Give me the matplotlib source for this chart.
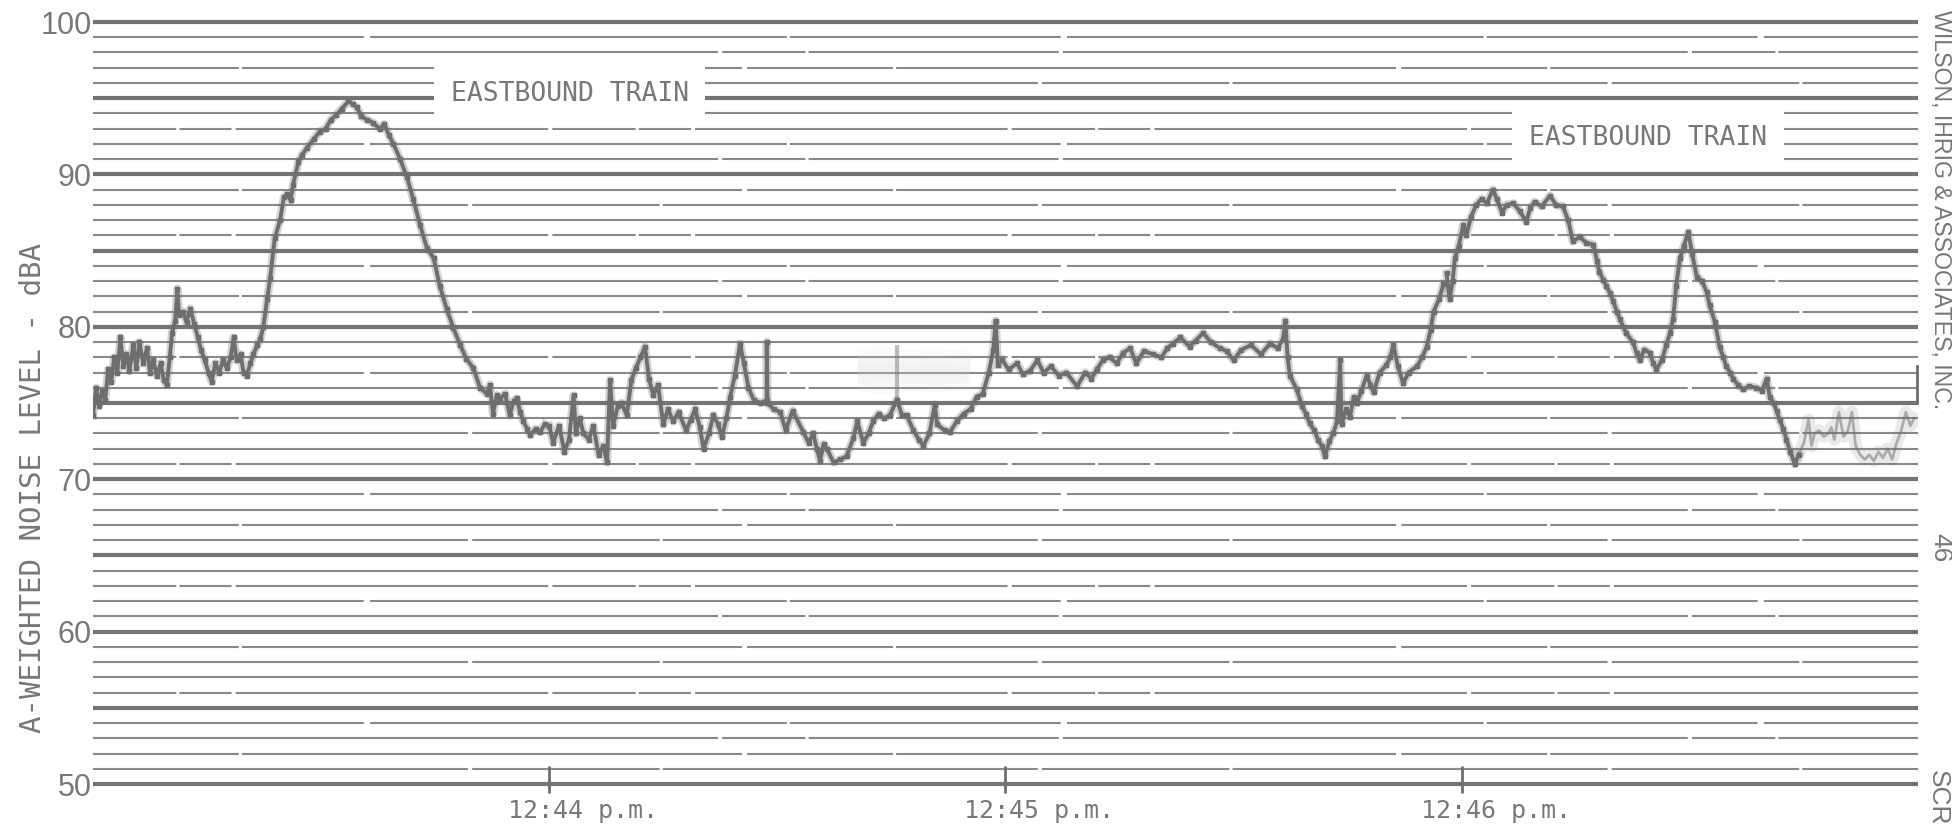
import matplotlib.pyplot as plt
from matplotlib import font_manager
from matplotlib.transforms import ScaledTranslation

# time in seconds after 12:43 p.m., level in dBA
seg1_t = [0, 0.4, 0.8, 1.2, 1.6, 2.0, 2.4, 2.8, 3.2, 3.6, 4.0, 4.4, 4.8, 5.3, 5.7, 6.1, 6.6,
          7.1, 7.5, 7.9, 8.4, 8.9, 9.3, 9.7, 10.1, 10.4, 10.8, 11.1, 11.3, 11.8, 12.3, 12.8,
          13.3, 13.8, 14.2, 14.7, 15.2, 15.6, 16.1, 16.6, 17.1, 17.6, 18.1, 18.5, 18.9, 19.4,
          19.8, 20.2, 20.7, 21.1, 21.6, 22.0, 22.4, 22.9, 23.3, 23.9, 24.6, 25.1, 25.5, 26.0,
          26.3, 27.0, 27.5, 28.1, 29.0, 29.8, 30.6, 31.3, 32.0, 32.7, 33.6, 34.2, 34.7, 35.3,
          36.0, 36.8, 37.7, 38.3, 38.9, 39.5, 40.4, 41.3, 42.1, 43.0, 43.9, 44.8, 45.6, 46.5,
          47.4, 48.3, 49.1, 50.0, 50.9, 51.8, 52.2, 52.6, 53.1, 53.5, 54.2, 54.8, 55.3, 55.7,
          56.2, 56.6, 57.1, 57.5, 58.2, 58.8, 59.4]
seg1_db = [74.2, 76.0, 74.8, 75.8, 75.2, 77.2, 76.4, 78.0, 77.0, 79.3, 77.4, 78.2, 77.1, 78.8,
           77.3, 79.0, 77.6, 78.6, 77.0, 77.8, 76.8, 77.6, 76.5, 76.2, 78.0, 79.6, 80.4, 82.5,
           80.8, 81.0, 80.3, 81.2, 80.2, 79.3, 78.5, 77.8, 77.0, 76.4, 77.6, 77.0, 77.8, 77.3,
           78.0, 79.3, 77.8, 78.2, 77.0, 76.8, 77.6, 78.2, 78.8, 79.2, 80.0, 81.8, 83.2, 85.8,
           87.0, 88.5, 88.7, 88.3, 89.3, 90.8, 91.3, 91.7, 92.3, 92.8, 93.0, 93.6, 93.9, 94.3,
           94.8, 94.6, 94.4, 93.8, 93.6, 93.4, 93.0, 93.3, 92.6, 92.0, 91.0, 89.8, 88.4, 86.7,
           85.2, 84.5, 82.7, 81.2, 79.9, 78.8, 77.9, 77.3, 76.0, 75.6, 76.2, 74.3, 75.5, 75.3,
           75.6, 74.2, 75.1, 75.3, 74.4, 73.8, 73.3, 72.9, 73.3, 73.1, 73.6]

seg2_t = [60.0, 60.5, 61.3, 62.0, 62.6, 63.2, 63.5, 64.0, 64.5, 65.2, 65.8, 66.5, 67.1, 67.6,
          68.0, 68.4, 69.0, 69.5, 70.2, 70.8, 71.4, 72.0, 72.6, 73.1, 73.7, 74.3, 75.0, 75.6,
          76.3, 77.0, 78.0, 78.6, 79.2, 79.8, 80.3, 81.0, 81.6, 82.2, 82.7, 83.3, 83.8, 84.4,
          85.1, 85.6, 86.2, 86.9, 87.8, 88.6, 88.6, 88.7, 89.5, 90.4, 91.1, 92.0, 93.4, 94.1,
          94.7, 95.2, 95.6, 96.1, 96.5, 97.4, 98.3, 99.1, 100.0, 100.5, 101.3, 102.0, 102.6,
          103.3, 104.0, 104.8, 105.7, 106.4, 107.0, 107.9, 108.6, 109.2, 110.0, 110.7, 111.0,
          112.0, 112.7, 113.6, 114.5, 115.4, 116.2, 117.0, 117.8, 118.4, 118.7, 119.0]
seg2_db = [73.5, 72.4, 73.5, 71.8, 72.6, 75.5, 73.0, 74.0, 73.0, 72.6, 73.5, 71.6, 72.2, 71.1,
           76.5, 73.5, 74.8, 75.0, 74.2, 76.5, 77.3, 78.0, 78.7, 76.6, 75.5, 76.2, 73.6, 74.6,
           73.8, 74.4, 73.2, 73.9, 74.6, 73.4, 72.0, 73.0, 74.2, 73.6, 72.8, 74.0, 75.4, 76.8,
           78.9, 77.6, 76.0, 75.2, 75.0, 75.2, 79.0, 75.0, 74.6, 74.4, 73.2, 74.5, 73.1, 72.4,
           73.0, 72.0, 71.2, 72.3, 72.0, 71.1, 71.3, 71.5, 72.7, 73.8, 72.4, 73.0, 73.8, 74.3,
           74.0, 74.2, 75.2, 74.2, 74.2, 73.2, 72.6, 72.2, 73.0, 74.9, 73.6, 73.2, 73.1, 73.8,
           74.3, 74.6, 75.4, 75.6, 77.0, 78.5, 80.4, 77.5]

seg3_t = [119.6, 120.4, 121.5, 122.3, 123.2, 124.2, 125.0, 126.0, 127.0, 128.0, 129.4, 130.5,
          131.3, 132.0, 132.8, 133.7, 134.6, 135.5, 136.4, 137.2, 138.2, 139.4, 140.5, 141.3,
          142.0, 143.0, 144.2, 145.0, 146.0, 147.0, 148.2, 149.1, 150.0, 151.0, 152.3, 153.6,
          154.8, 155.8, 156.5, 156.8, 157.1, 157.4, 158.3, 159.0, 159.5, 160.0, 160.6, 161.1,
          161.6, 162.0, 162.6, 163.1, 163.6, 164.0, 164.2, 164.8, 165.3, 165.8, 166.2, 166.8,
          167.5, 168.0, 168.4, 169.2, 170.1, 170.6, 171.0, 171.6, 172.3, 173.0, 174.1, 174.8,
          175.4, 175.9, 176.3, 177.0, 177.6]
seg3_db = [77.8, 77.2, 77.6, 76.9, 77.1, 77.8, 77.0, 77.4, 76.8, 77.0, 76.1, 77.0, 76.6, 77.2,
           77.8, 78.0, 77.6, 78.3, 78.6, 77.6, 78.4, 78.2, 78.0, 78.6, 78.9, 79.3, 78.7, 79.1,
           79.6, 79.0, 78.6, 78.4, 77.8, 78.5, 78.8, 78.2, 78.9, 78.6, 79.2, 80.4, 78.0, 76.8,
           75.9, 74.8, 74.3, 73.7, 73.2, 72.6, 72.2, 71.5, 72.5, 73.0, 73.8, 77.8, 73.6, 74.6,
           74.1, 75.4, 75.0, 75.8, 76.8, 76.2, 75.7, 77.0, 77.5, 78.0, 78.8, 77.4, 76.3, 77.0,
           77.4, 78.0, 78.7, 79.8, 81.0, 81.8, 82.8]

seg4_t = [178.0, 178.4, 178.8, 179.1, 179.6, 180.2, 180.6, 181.2, 181.9, 182.6, 183.3, 184.1,
          184.6, 185.3, 185.9, 186.8, 187.6, 188.5, 189.0, 189.6, 190.5, 191.6, 192.4, 193.3,
          194.0, 194.6, 195.5, 196.4, 197.3, 197.8, 198.1, 198.6, 199.0, 199.5, 199.9, 200.4,
          200.8, 201.6, 202.5, 203.0, 203.4, 204.0, 204.7, 205.2, 205.6, 206.3, 206.9, 207.4,
          207.8, 208.2, 208.7, 209.2, 209.8, 210.3, 210.9, 211.6, 212.2, 212.6, 213.3, 213.9,
          214.4, 214.8, 215.3, 215.7, 216.3, 217.0, 217.8, 218.7, 219.5, 220.1, 220.5, 221.0,
          221.4, 221.8, 222.3, 222.7, 223.2, 223.8, 224.3]
seg4_db = [83.5, 81.8, 83.0, 84.5, 85.3, 86.7, 86.0, 87.2, 88.0, 88.4, 88.1, 89.0, 88.4, 87.5,
           88.0, 88.1, 87.6, 86.9, 87.8, 88.2, 87.9, 88.6, 88.0, 87.9, 87.0, 85.6, 85.9, 85.5,
           85.4, 84.3, 83.6, 83.1, 82.7, 82.2, 81.7, 81.0, 80.5, 79.6, 79.0, 78.3, 77.8, 78.5,
           78.3, 77.6, 77.2, 77.8, 78.8, 79.6, 80.5, 82.7, 84.5, 85.3, 86.2, 84.8, 83.3, 83.0,
           82.3, 81.4, 80.3, 78.7, 78.0, 77.4, 77.0, 76.6, 76.2, 75.9, 76.1, 76.0, 75.8, 76.6,
           75.4, 75.0, 74.5, 73.9, 73.3, 72.6, 71.8, 71.0, 71.6]

# smeared (blurred) parts of the recording
blur_t = [224.3, 225.0, 225.6, 226.0, 226.4, 227.0, 227.6, 228.2, 228.6, 229.0, 229.6, 230.2,
          230.8, 231.3, 231.8, 232.4, 233.0, 233.6, 234.2, 234.8, 235.4, 236.0, 236.6, 237.2,
          237.8, 238.4, 239.0, 239.5]
blur_db = [71.6, 72.4, 73.9, 72.2, 73.0, 73.2, 72.8, 73.0, 73.4, 72.6, 74.4, 72.8, 73.2, 74.4,
           72.2, 71.6, 71.3, 71.6, 71.2, 71.8, 71.4, 72.0, 71.3, 72.4, 73.2, 74.4, 73.5, 74.0]
end_t = [239.9, 239.9]
end_db = [75.0, 77.4]
haze_t = [100.5, 104.0, 107.5, 111.0, 115.3]
haze_lo = [75.8, 75.6, 75.8, 75.7, 75.9]
haze_hi = [78.6, 78.7, 78.5, 78.6, 78.4]
haze_mark_t = [105.7, 105.7]
haze_mark_db = [75.4, 78.7]

tick_secs = [60, 120, 180]
tick_labels = ["12:44 p.m.", "12:45 p.m.", "12:46 p.m."]
ytick_vals = [50, 60, 70, 80, 90, 100]

grey = "#6e6e6e"
text_grey = "#787878"

try:
    font_manager.findfont("Liberation Sans Narrow", fallback_to_default=False)
    narrow = "Liberation Sans Narrow"
except ValueError:
    narrow = "Liberation Sans"

fig = plt.figure(figsize=(19.52, 8.30), dpi=100)
ax = fig.add_axes([0.04764, 0.05542, 0.93494, 0.91807])
ax.set_xlim(0, 240)
ax.set_ylim(50, 100)
for s in ax.spines.values():
    s.set_visible(False)

# chart paper rulings: every dB thin, every 5 dB heavy
minor = [v for v in range(50, 101) if v % 5]
major = list(range(50, 101, 5))
dashes = [(0, (180, 2, 90, 1.5)), (0, (70, 1.5, 240, 2.5)), (0, (300, 2, 40, 1.5, 120, 2)),
          (0, (130, 3, 200, 1.5)), (0, (40, 1.5, 25, 2, 150, 2)), "solid"]
ax.hlines(minor, 0, 240, colors="#8a8a8a", linewidth=1.5,
          linestyles=[dashes[i % len(dashes)] for i in range(len(minor))], zorder=1)
ax.hlines(major, 0, 240, colors="#747474", linewidth=3.0, zorder=1, clip_on=False)

# recorder trace
for k, a in [(0.0, 0.10), (0.5, 0.10), (1.0, 0.08)]:
    ax.fill_between(haze_t, [v + k for v in haze_lo], [v - k for v in haze_hi],
                    color="#cfcfcf", alpha=a, lw=0, zorder=2)
ax.plot(haze_mark_t, haze_mark_db, color=grey, lw=3, alpha=0.45, zorder=2)
for t, db in [(seg1_t, seg1_db), (seg2_t, seg2_db), (seg3_t, seg3_db), (seg4_t, seg4_db)]:
    ax.plot(t, db, color=grey, lw=6, alpha=0.3, zorder=2)
    ax.plot(t, db, color=grey, lw=2.8, marker="s", ms=3, zorder=3)
ax.plot(blur_t, blur_db, color=grey, lw=9, alpha=0.15, zorder=2)
ax.plot(blur_t, blur_db, color=grey, lw=2, alpha=0.5, zorder=3)
ax.plot(end_t, end_db, color=grey, lw=2, zorder=3, clip_on=False)

# time ticks
ax.vlines(tick_secs, 49.4, 51.2, colors=grey, lw=2, clip_on=False, zorder=3)
ax.set_xticks(tick_secs)
ax.set_xticklabels(tick_labels, family="DejaVu Sans Mono", fontsize=18, color=text_grey)
ax.tick_params(axis="x", length=0, pad=11)
for lbl in ax.get_xticklabels():
    lbl.set_horizontalalignment("left")
    lbl.set_transform(lbl.get_transform() + ScaledTranslation(-0.41, 0, fig.dpi_scale_trans))

ax.set_yticks(ytick_vals)
ax.set_yticklabels([str(v) for v in ytick_vals], family=narrow, fontsize=22, color=text_grey)
ax.tick_params(axis="y", length=0, pad=1)

fig.text(0.0169, 0.412, "A-WEIGHTED NOISE LEVEL - dBA", rotation=90, ha="center", va="center",
         family="DejaVu Sans Mono", fontsize=21, color=text_grey)

box = dict(facecolor="white", edgecolor="none", pad=12)
ax.text(62.7, 95.3, "EASTBOUND TRAIN", ha="center", va="center", family="DejaVu Sans Mono",
        fontsize=19, color=text_grey, bbox=box, zorder=4)
ax.text(204.5, 92.4, "EASTBOUND TRAIN", ha="center", va="center", family="DejaVu Sans Mono",
        fontsize=19, color=text_grey, bbox=box, zorder=4)

firm = fig.text(0.9939, 0.988, "WILSON, IHRIG & ASSOCIATES, INC.", rotation=-90, ha="center",
                va="top", family=narrow, fontsize=18, color=text_grey)
# fit the firm name to the ~400 px it spans on the original sheet
fig.canvas.draw()
h = firm.get_window_extent().height
firm.set_fontsize(18 * 400 / h)

fig.text(0.9942, 0.340, "46", rotation=-90, ha="center", va="center",
         family="Liberation Sans", fontsize=19, color=text_grey)
fig.text(0.9925, 0.0723, "SCR", rotation=-90, ha="center", va="top",
         family="Liberation Sans", fontsize=19, color=text_grey)

fig.savefig("out.png", dpi=100, facecolor="white")
